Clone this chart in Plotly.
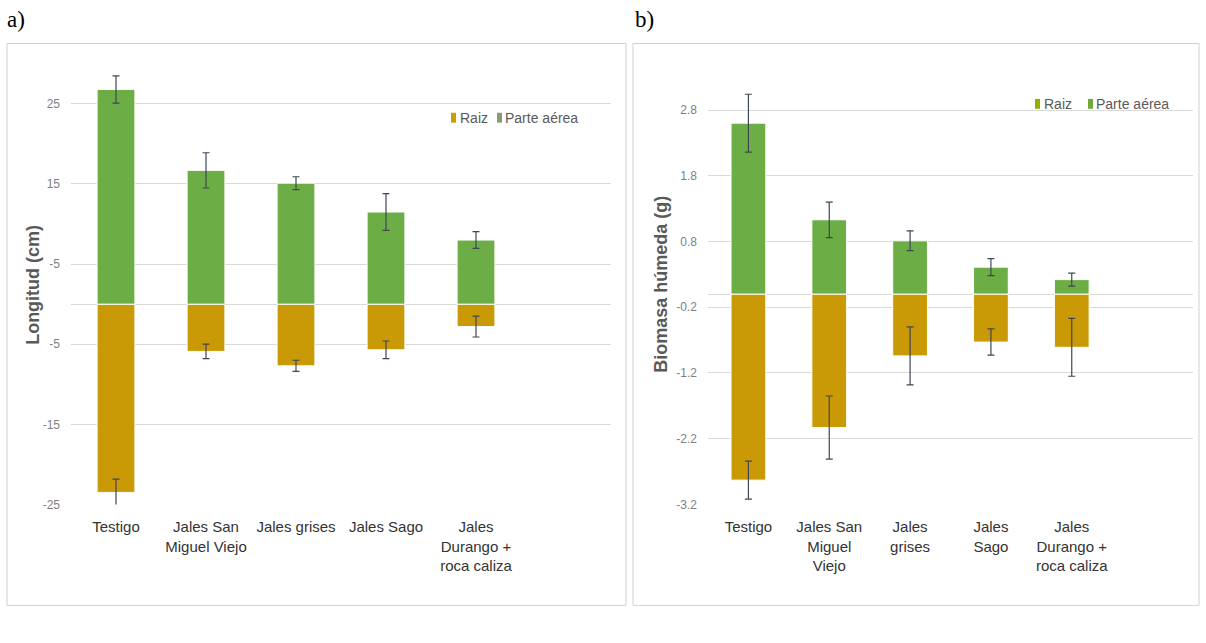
import plotly.graph_objects as go

W, H = 1206, 643

positions = [0, 1, 2, 3, 4]
labels_a = ["Testigo", "Jales San<br>Miguel Viejo", "Jales grises", "Jales Sago",
            "Jales<br>Durango +<br>roca caliza"]
labels_b = ["Testigo", "Jales San<br>Miguel<br>Viejo", "Jales<br>grises", "Jales<br>Sago",
            "Jales<br>Durango +<br>roca caliza"]

# Panel a: Longitud (cm)
parte_a = [26.8, 16.7, 15.1, 11.5, 8.0]
parte_a_err = [1.7, 2.2, 0.8, 2.3, 1.05]
raiz_a = [-23.5, -5.9, -7.7, -5.7, -2.8]
raiz_a_err = [1.65, 0.9, 0.7, 1.1, 1.3]

# Panel b: Biomasa húmeda (g)
parte_b = [2.60, 1.13, 0.81, 0.41, 0.22]
parte_b_err = [0.44, 0.27, 0.15, 0.13, 0.10]
raiz_b = [-2.83, -2.03, -0.94, -0.73, -0.81]
raiz_b_err = [0.29, 0.48, 0.44, 0.20, 0.44]

ticks_a = [25, 15, 5, -5, -15, -25]
ticktext_a = ["25", "15", "-5", "-5", "-15", "-25"]
ticks_b = [2.8, 1.8, 0.8, -0.2, -1.2, -2.2, -3.2]
ticktext_b = ["2.8", "1.8", "0.8", "-0.2", "-1.2", "-2.2", "-3.2"]

series_names = ["Raiz", "Parte aérea"]

GREEN = "#6cae45"
GOLD = "#c99a06"
ERR = "#3e4656"
FONT = "Liberation Sans Narrow, Arial Narrow, Liberation Sans, Arial, sans-serif"


def px_x(p):
    return p / W


def px_y(p):
    return 1 - p / H


fig = go.Figure()

err_style = dict(type="data", color=ERR, thickness=1.2, width=3.5)
bar_line = dict(color="white", width=1)

fig.add_trace(go.Bar(x=positions, y=raiz_a, name=series_names[0], marker=dict(color=GOLD, line=bar_line),
                     error_y=dict(array=raiz_a_err, **err_style), width=0.42, xaxis="x", yaxis="y"))
fig.add_trace(go.Bar(x=positions, y=parte_a, name=series_names[1], marker=dict(color=GREEN, line=bar_line),
                     error_y=dict(array=parte_a_err, **err_style), width=0.42, xaxis="x", yaxis="y"))
fig.add_trace(go.Bar(x=positions, y=raiz_b, name=series_names[0], marker=dict(color=GOLD, line=bar_line),
                     error_y=dict(array=raiz_b_err, **err_style), width=0.43, xaxis="x2", yaxis="y2"))
fig.add_trace(go.Bar(x=positions, y=parte_b, name=series_names[1], marker=dict(color=GREEN, line=bar_line),
                     error_y=dict(array=parte_b_err, **err_style), width=0.43, xaxis="x2", yaxis="y2"))

plot_top, plot_bot = 60, 510
grid = "#d9d9d9"
xtick_font = dict(family=FONT, size=15, color="#333333")
ytick_font = dict(family=FONT, size=12, color="#7f7f7f")

fig.update_layout(
    width=W, height=H, autosize=False,
    margin=dict(l=0, r=0, t=0, b=0),
    paper_bgcolor="white", plot_bgcolor="white",
    barmode="relative",
    showlegend=False,
    xaxis=dict(domain=[px_x(71), px_x(611)], anchor="y", range=[-0.5, 5.5],
               tickvals=positions, ticktext=labels_a, tickfont=xtick_font,
               showgrid=False, zeroline=False, showline=False, ticks="",
               ticklabelstandoff=12),
    yaxis=dict(domain=[px_y(plot_bot), px_y(plot_top)], anchor="x",
               range=[-25, 25 + (105 - plot_top) / 8.1],
               tickvals=ticks_a, ticktext=ticktext_a, tickfont=ytick_font,
               showgrid=True, gridcolor=grid, gridwidth=1,
               zeroline=True, zerolinecolor=grid, zerolinewidth=1,
               showline=False, ticks="", ticklabelstandoff=10),
    xaxis2=dict(domain=[px_x(708), px_x(1193)], anchor="y2", range=[-0.5, 5.5],
                tickvals=positions, ticktext=labels_b, tickfont=xtick_font,
                showgrid=False, zeroline=False, showline=False, ticks="",
                ticklabelstandoff=12),
    yaxis2=dict(domain=[px_y(plot_bot), px_y(plot_top)], anchor="x2",
                range=[-3.2, 2.8 + (111.3 - plot_top) / 66.57],
                tickvals=ticks_b, ticktext=ticktext_b, tickfont=ytick_font,
                showgrid=True, gridcolor=grid, gridwidth=1,
                zeroline=True, zerolinecolor=grid, zerolinewidth=1,
                showline=False, ticks="", ticklabelstandoff=10),
)

# panel frames
frame = dict(type="rect", xref="paper", yref="paper", line=dict(color="#d0d0d0", width=1),
             fillcolor="rgba(0,0,0,0)", layer="below")
fig.add_shape(x0=px_x(7), x1=px_x(626), y0=px_y(612), y1=px_y(44), **frame)
fig.add_shape(x0=px_x(633), x1=px_x(1199), y0=px_y(612), y1=px_y(44), **frame)

ann = []
serif = dict(family="Liberation Serif, DejaVu Serif, serif", size=23, color="black")
ann.append(dict(text="a)", x=px_x(5), y=px_y(20), xref="paper", yref="paper", xanchor="left",
                yanchor="middle", showarrow=False, font=serif))
ann.append(dict(text="b)", x=px_x(633), y=px_y(20), xref="paper", yref="paper", xanchor="left",
                yanchor="middle", showarrow=False, font=serif))
title_font = dict(family="Liberation Sans, Arial, sans-serif", size=18, color="#595959")
ann.append(dict(text="<b>Longitud (cm)</b>", x=px_x(33), y=px_y(288), xref="paper", yref="paper",
                textangle=-90, showarrow=False, xanchor="center", yanchor="middle", font=title_font))
ann.append(dict(text="<b>Biomasa húmeda (g)</b>", x=px_x(661), y=px_y(288), xref="paper", yref="paper",
                textangle=-90, showarrow=False, xanchor="center", yanchor="middle", font=title_font))

# legends (drawn as small swatches with text, like the original)
leg_font = dict(family=FONT, size=14, color="#595959")
legends = [
    # (swatch x, text x, center y, swatch colour) for each series, per panel
    [(451, 458, 119, "#c8a000"), (497, 503, 119, "#8c9a70")],
    [(1035, 1042, 105, "#96ad00"), (1088, 1094, 105, "#74a83c")],
]
for panel in legends:
    for (sx, tx, cy, col), name in zip(panel, series_names):
        fig.add_shape(type="rect", xref="paper", yref="paper", x0=px_x(sx), x1=px_x(sx + 5),
                      y0=px_y(cy + 5), y1=px_y(cy - 5), fillcolor=col, line=dict(width=0))
        ann.append(dict(text=name, x=px_x(tx), y=px_y(cy), xref="paper", yref="paper",
                        xanchor="left", yanchor="middle", showarrow=False, font=leg_font))

fig.update_layout(annotations=ann)

fig.write_html("out.html", config={"responsive": False, "displayModeBar": False})

# remove the default page margin so the figure sits at the window origin
with open("out.html", "r", encoding="utf-8") as f:
    html = f.read()
html = html.replace("<head>", "<head><style>html,body{margin:0;padding:0;overflow:hidden;}</style>", 1)
with open("out.html", "w", encoding="utf-8") as f:
    f.write(html)
